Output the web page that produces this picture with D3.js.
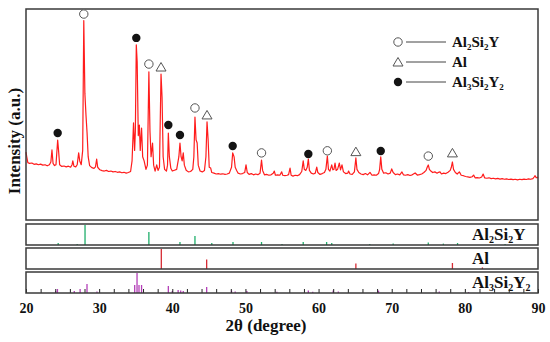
<!DOCTYPE html>
<html><head><meta charset="utf-8">
<script src="https://cdn.jsdelivr.net/npm/d3@7"></script>
<style>html,body{margin:0;padding:0;background:#fff}svg{display:block}
text{font-family:"Liberation Serif","Times New Roman","DejaVu Serif",serif;font-weight:bold}</style>
</head><body><svg id="c" width="550" height="342"></svg>
<script>
// XRD pattern: [2theta, intensity (a.u.)]
const pattern = [
[20.0,322],[20.1,300],[20.25,272],[20.5,268],[20.8,270],[21.1,264],[21.4,266],[21.7,262],[22.0,265],[22.3,260],[22.6,262],[22.9,257],[23.2,262],[23.4,275],[23.55,332],[23.7,268],[23.9,258],[24.1,262],[24.33,379],[24.45,330],[24.6,262],[24.9,254],[25.2,256],[25.5,252],[25.8,255],[26.1,250],[26.3,262],[26.4,280],[26.55,255],[26.8,252],[27.0,262],[27.2,318],[27.35,280],[27.55,262],[27.75,330],[27.9,945],[28.05,600],[28.2,498],[28.35,412],[28.5,300],[28.7,258],[29.0,248],[29.3,245],[29.5,252],[29.66,289],[29.8,250],[30.1,238],[30.4,234],[30.7,232],[31.0,235],[31.3,230],[31.6,232],[31.9,228],[32.2,230],[32.5,226],[32.8,228],[33.1,224],[33.4,226],[33.7,222],[34.0,225],[34.3,230],[34.5,280],[34.7,460],[34.85,330],[34.95,420],[35.08,830],[35.2,749],[35.35,400],[35.5,450],[35.62,330],[35.8,436],[35.95,300],[36.15,280],[36.4,240],[36.6,260],[36.8,702],[36.95,420],[37.1,300],[37.3,365],[37.45,260],[37.65,232],[37.87,261],[38.05,235],[38.25,250],[38.46,692],[38.6,583],[38.75,300],[38.95,240],[39.2,232],[39.35,260],[39.46,412],[39.6,300],[39.8,245],[40.0,232],[40.3,236],[40.6,240],[40.9,300],[41.05,365],[41.2,300],[41.35,280],[41.5,318],[41.65,260],[41.9,236],[42.2,228],[42.5,230],[42.8,240],[42.95,300],[43.1,488],[43.25,380],[43.4,365],[43.55,260],[43.8,232],[44.1,228],[44.4,235],[44.6,300],[44.75,465],[44.9,380],[45.05,250],[45.25,246],[45.4,225],[45.7,222],[46.0,218],[46.3,220],[46.6,217],[46.9,219],[47.2,216],[47.5,218],[47.8,222],[48.1,250],[48.26,318],[48.45,299],[48.6,250],[48.8,235],[49.0,222],[49.3,218],[49.6,220],[49.9,225],[50.08,261],[50.25,225],[50.5,216],[50.8,220],[51.1,214],[51.4,218],[51.7,215],[52.0,222],[52.2,284],[52.35,235],[52.6,214],[52.9,216],[53.2,212],[53.5,214],[53.8,222],[53.95,232],[54.1,212],[54.4,214],[54.7,212],[54.96,228],[55.1,212],[55.4,210],[55.7,212],[55.9,215],[56.1,246],[56.25,212],[56.5,208],[56.8,212],[57.1,210],[57.4,215],[57.7,230],[57.9,280],[58.05,240],[58.25,235],[58.45,250],[58.6,289],[58.75,235],[59.0,222],[59.3,218],[59.55,222],[59.75,251],[59.9,225],[60.2,216],[60.5,220],[60.8,225],[61.0,240],[61.2,303],[61.35,240],[61.55,232],[61.8,261],[61.95,238],[62.1,240],[62.25,270],[62.4,235],[62.6,240],[62.84,270],[63.0,238],[63.2,261],[63.4,228],[63.7,220],[64.0,222],[64.1,232],[64.3,218],[64.6,216],[64.9,228],[65.1,294],[65.25,240],[65.5,225],[65.8,218],[66.1,215],[66.4,220],[66.7,214],[67.03,226],[67.3,212],[67.6,214],[67.9,212],[68.2,220],[68.35,240],[68.5,299],[68.65,240],[68.9,222],[69.2,224],[69.5,218],[69.8,222],[70.0,242],[70.2,225],[70.5,215],[70.8,218],[71.1,214],[71.4,228],[71.6,214],[71.9,212],[72.2,215],[72.5,211],[72.8,214],[73.2,223],[73.5,213],[73.8,215],[74.1,218],[74.4,225],[74.7,235],[74.85,250],[75.0,261],[75.15,240],[75.35,232],[75.6,225],[75.9,228],[76.2,222],[76.4,226],[76.6,228],[76.8,218],[77.1,222],[77.4,220],[77.7,226],[78.0,235],[78.15,250],[78.3,275],[78.45,240],[78.7,225],[78.95,218],[79.25,228],[79.5,212],[79.8,210],[80.1,206],[80.4,204],[80.7,202],[81.0,205],[81.2,213],[81.4,200],[81.7,201],[82.0,199],[82.3,204],[82.5,218],[82.7,200],[83.0,198],[83.3,200],[83.6,196],[83.9,198],[84.2,195],[84.5,197],[84.8,194],[85.1,196],[85.4,193],[85.7,195],[86.0,192],[86.3,194],[86.6,191],[86.9,193],[87.2,190],[87.5,193],[87.8,191],[88.1,194],[88.4,192],[88.7,195],[89.0,193],[89.3,196],[89.5,205],[89.6,210],[89.75,200],[89.9,203],[90.0,198]
];
// Phase markers: [phase, 2theta, intensity level]
const markers = [
["c",27.9,976],["f",24.33,412],["f",35.08,863],["c",36.8,739],["t",38.46,725],["f",39.46,450],["f",41.05,403],["c",43.1,531],["t",44.75,498],["f",48.26,351],["c",52.2,318],["f",58.6,313],["c",61.2,328],["t",65.1,324],["f",68.5,327],["c",75.0,303],["t",78.3,318]
];
// Reference sticks [2theta, relative intensity]
const refAl2Si2Y = [[24.4,10],[27.0,5],[28.07,100],[36.8,65],[41.05,15],[43.1,45],[45.4,10],[48.3,15],[52.2,15],[55.0,5],[57.9,15],[61.1,15],[61.8,10],[67.0,5],[70.2,7],[75.0,12],[77.06,7],[79.0,10],[85.5,5]];
const refAl = [[38.5,100],[44.7,47],[65.1,28],[78.3,30],[82.4,8]];
const refAl3Si2Y2 = [[24.05,10],[24.3,20],[26.6,10],[27.4,20],[28.34,45],[29.7,8],[34.86,40],[35.18,100],[35.45,40],[35.8,40],[39.46,35],[40.0,10],[40.8,15],[41.15,12],[41.5,10],[44.7,30],[48.1,12],[48.6,8],[50.2,10],[54.3,6],[58.6,12],[59.2,6],[62.0,12],[62.7,8],[68.2,12],[76.5,8],[80.5,5]];
const xTickLabels = [20,30,40,50,60,70,80,90];
const minorTicks = d3.range(20, 91, 2);

const svg = d3.select("#c");
const L = 26, R = 538;
const x = d3.scaleLinear().domain([20,90]).range([L,R]);
const y = d3.scaleLinear().domain([0,1000]).range([220,9]);
const frame = "#3a3a3a";

function formula(t, parts, size, subSize){
  let prevSub=false;
  parts.forEach(([s,sub])=>{
    let dy=0; if(sub&&!prevSub) dy=3; if(!sub&&prevSub) dy=-3;
    t.append("tspan").text(s).style("font-size",(sub?subSize:size)+"px").attr("dy",dy);
    prevSub=sub;
  });
}

// main line
svg.append("path").datum(pattern)
  .attr("d", d3.line().x(d=>x(d[0])).y(d=>y(d[1])))
  .attr("fill","none").attr("stroke","#ff1c1c").attr("stroke-width",1.2).attr("stroke-linejoin","round");

// panels
const panels = [
  {top:224,bot:245,data:refAl2Si2Y,color:"#1fae6b",label:[["Al",0],["2",1],["Si",0],["2",1],["Y",0]]},
  {top:248,bot:269,data:refAl,color:"#d62b34",label:[["Al",0]]},
  {top:272,bot:293,data:refAl3Si2Y2,color:"#b43fb8",label:[["Al",0],["3",1],["Si",0],["2",1],["Y",0],["2",1]]}
];
panels.forEach(p=>{
  const py = d3.scaleLinear().domain([0,100]).range([p.bot, p.top+1]);
  svg.append("g").selectAll("line").data(p.data).join("line")
    .attr("x1",d=>x(d[0])).attr("x2",d=>x(d[0]))
    .attr("y1",p.bot).attr("y2",d=>py(d[1]))
    .attr("stroke",p.color).attr("stroke-width",1.3);
  const t = svg.append("text").attr("x",472).attr("y",p.top+16).attr("fill","#111");
  formula(t, p.label, 17, 10);
});

// bottom minor ticks (inward)
const gm = svg.append("g").attr("transform","translate(0,293)")
  .call(d3.axisBottom(x).tickValues(minorTicks).tickSize(-4).tickFormat(""));
gm.select(".domain").remove();
gm.selectAll(".tick line").attr("stroke","#222").attr("stroke-width",1);

// labels axis
const gl = svg.append("g").attr("transform","translate(0,295)")
  .call(d3.axisBottom(x).tickValues(xTickLabels).tickSize(0).tickPadding(8).tickFormat(d3.format("d")));
gl.select(".domain").remove();
gl.attr("font-family",null);
gl.selectAll("text").style("font-size","14px").attr("fill","#111");

// frames
svg.append("rect").attr("x",L).attr("y",9).attr("width",R-L).attr("height",211)
  .attr("fill","none").attr("stroke",frame).attr("stroke-width",1.5);
panels.forEach(p=>{
  svg.append("rect").attr("x",L).attr("y",p.top).attr("width",R-L).attr("height",p.bot-p.top)
    .attr("fill","none").attr("stroke",frame).attr("stroke-width",1.5);
});

// markers
function drawSym(g, type, cx, cy){
  if(type==="c") g.append("circle").attr("cx",cx).attr("cy",cy).attr("r",4.2).attr("fill","#fff").attr("stroke","#555").attr("stroke-width",1);
  else if(type==="f") g.append("circle").attr("cx",cx).attr("cy",cy).attr("r",4.2).attr("fill","#141414");
  else g.append("path").attr("d",`M${cx},${cy-4.5}L${cx+5},${cy+4}L${cx-5},${cy+4}Z`).attr("fill","#fff").attr("stroke","#555").attr("stroke-width",1);
}
const gmk = svg.append("g");
markers.forEach(m=>drawSym(gmk, m[0], x(m[1]), y(m[2])));

// legend
const legend = [["c",[["Al",0],["2",1],["Si",0],["2",1],["Y",0]]],["t",[["Al",0]]],["f",[["Al",0],["3",1],["Si",0],["2",1],["Y",0],["2",1]]]];
legend.forEach((l,i)=>{
  const cy = 42 + i*20;
  drawSym(svg, l[0], 398, cy);
  svg.append("line").attr("x1",406).attr("x2",446).attr("y1",cy).attr("y2",cy).attr("stroke","#444").attr("stroke-width",1);
  const t = svg.append("text").attr("x",452).attr("y",cy+5).attr("fill","#111");
  formula(t, l[1], 15, 9);
});

// axis titles
svg.append("text").attr("transform","translate(20,141) rotate(-90)").attr("text-anchor","middle")
  .style("font-size","17px").attr("fill","#111").text("Intensity (a.u.)");
svg.append("text").attr("x",266).attr("y",331).attr("text-anchor","middle")
  .style("font-size","17px").attr("fill","#111").text("2θ (degree)");
</script></body></html>
